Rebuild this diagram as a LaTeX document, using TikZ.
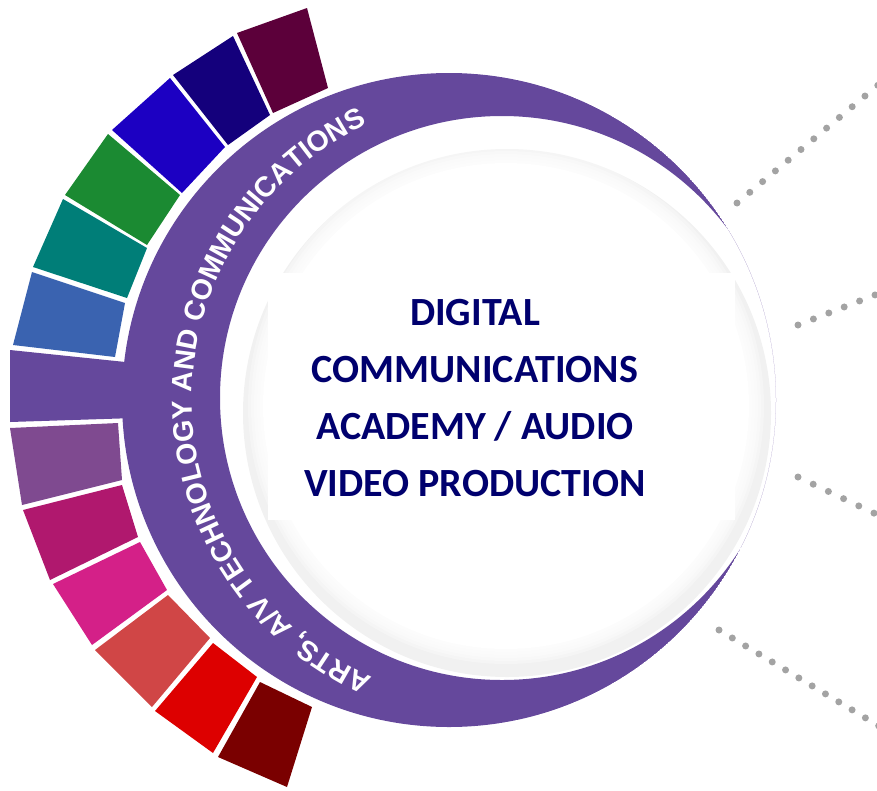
\documentclass[tikz,border=0pt]{standalone}
\usepackage{fontspec}
\setmainfont{Carlito}
\newfontfamily\ringfont{Liberation Sans}
\usetikzlibrary{decorations.text}
\definecolor{ringpurple}{HTML}{65489C}
\definecolor{diskgray}{HTML}{F1F1F1}
\definecolor{dotgray}{HTML}{A3A3A3}
\definecolor{textnavy}{HTML}{00006E}
\definecolor{cMaroon}{HTML}{5C003A}
\definecolor{cNavy}{HTML}{14007C}
\definecolor{cBlue}{HTML}{1C00C2}
\definecolor{cGreen}{HTML}{1B8A32}
\definecolor{cTeal}{HTML}{007E78}
\definecolor{cSteel}{HTML}{3A63B0}
\definecolor{cMauve}{HTML}{7F4A90}
\definecolor{cDarkMag}{HTML}{B0186E}
\definecolor{cPink}{HTML}{D42088}
\definecolor{cCoral}{HTML}{D04646}
\definecolor{cRed}{HTML}{DD0000}
\definecolor{cDarkRed}{HTML}{7A0000}
\tikzset{
  dots/.style={draw=dotgray, line width=7pt, line cap=round, dash pattern=on 0pt off #1},
  titletext/.style={font=\bfseries\fontsize{40}{57}\selectfont, text=textnavy, align=center}
}
\begin{document}
\begin{tikzpicture}[x=1pt,y=1pt]
\useasboundingbox (0,0) rectangle (877,-790);
\clip (0,0) rectangle (877,-790);

% dotted connectors
\coordinate (d1s) at (737,-203); \coordinate (d1e) at (929,-42.5);
\coordinate (d2s) at (798,-325); \coordinate (d2e) at (921,-277);
\coordinate (d3s) at (798,-477); \coordinate (d3e) at (920,-535);
\coordinate (d4s) at (719,-630); \coordinate (d4e) at (905.6,-742);
\draw[dots=16.68pt] (d1s) -- (d1e);
\draw[dots=16.53pt] (d2s) -- (d2e);
\draw[dots=16.82pt] (d3s) -- (d3e);
\draw[dots=15.52pt] (d4s) -- (d4e);

% central disk with a soft light-grey rim
\fill[diskgray] (507,-413) circle (264);
\foreach \r in {258,255,252,249,246}{
  \fill[white, opacity=0.3] (506,-406) circle (\r);
}
\fill[white] (506,-406) circle (243);
\fill[white] (268,-273) rectangle (735,-520);

% purple crescent
\begin{scope}
\clip (449,-400) circle (327);
\fill[ringpurple, even odd rule] (449,-400) circle (327) (502,-398) circle (282);
\end{scope}

% colour blocks
\fill[cMaroon] (237,-33) -- (307,-8) -- (328,-88) -- (273,-113) -- cycle;
\fill[cNavy] (173,-75) -- (233,-36) -- (270,-115) -- (228,-145) -- cycle;
\fill[cBlue] (112,-130) -- (170,-78) -- (225,-147) -- (182,-193) -- cycle;
\fill[cGreen] (65,-195) -- (108,-134) -- (180,-195) -- (147,-245) -- cycle;
\fill[cTeal] (33,-267) -- (63,-199) -- (147,-248) -- (127,-298) -- cycle;
\fill[cSteel] (13,-345) -- (32,-272) -- (125,-303) -- (115,-357) -- cycle;
\fill[ringpurple] (10,-350) -- (10,-422) -- (135,-418) -- (135,-363) -- cycle;
\fill[cMauve] (10,-428) -- (118,-423) -- (122,-480) -- (22,-505) -- cycle;
\fill[cDarkMag] (23,-510) -- (122,-485) -- (138,-537) -- (50,-580) -- cycle;
\fill[cPink] (53,-584) -- (140,-542) -- (167,-590) -- (92,-645) -- cycle;
\fill[cCoral] (95,-650) -- (168,-595) -- (210,-638) -- (152,-707) -- cycle;
\fill[cRed] (155,-711) -- (213,-643) -- (257,-677) -- (213,-753) -- cycle;
\fill[cDarkRed] (218,-757) -- (260,-682) -- (312,-707) -- (287,-787) -- cycle;

% ring text
\coordinate (tc) at (496,-400);
\path[decorate, decoration={text along path, text align=center, text color=white,
  text={|\ringfont\bfseries\fontsize{28.5}{30}\selectfont|ARTS, A/V TECHNOLOGY AND COMMUNICATIONS}}]
  (tc) ++(246:304) arc[start angle=246, end angle=115, radius=304];

% title
\node[titletext] (title) at (475,-398) {DIGITAL\\COMMUNICATIONS\\ACADEMY / AUDIO\\VIDEO PRODUCTION};
\end{tikzpicture}
\end{document}
